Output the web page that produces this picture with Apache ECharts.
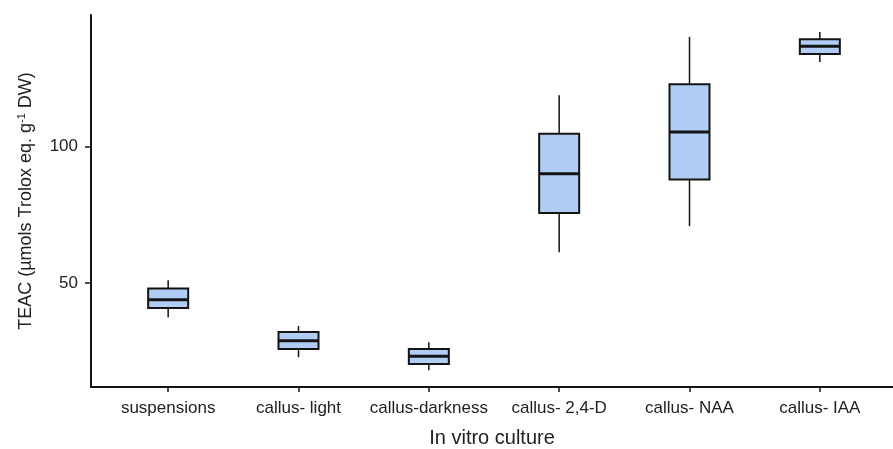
<!DOCTYPE html>
<html>
<head>
<meta charset="utf-8">
<script src="https://cdn.jsdelivr.net/npm/echarts@6/dist/echarts.min.js"></script>
<style>
  html, body { margin: 0; padding: 0; background: #fff; }
  #chart { width: 893px; height: 449px; }
</style>
</head>
<body>
<div id="chart"></div>
<script>
// Culture types along the x axis
const categories = ['suspensions', 'callus- light', 'callus-darkness', 'callus- 2,4-D', 'callus- NAA', 'callus- IAA'];

// Box statistics per culture (TEAC, µmols Trolox eq. g-1 DW)
const whiskerLow  = [37.5, 22.9, 18.1, 61.3, 70.8, 130.8];
const quartile1   = [40.9, 25.9, 20.4, 75.6, 87.9, 133.7];
const medians     = [43.9, 28.9, 23.2, 90.0, 105.2, 136.6];
const quartile3   = [48.0, 32.1, 25.9, 104.6, 122.7, 139.1];
const whiskerHigh = [51.0, 34.3, 28.4, 118.7, 140.0, 141.8];

// Y axis tick values
const yTicks = [50, 100];
const yMin = 12;
const yMax = 148;

const boxData = categories.map((c, i) => [i, whiskerLow[i], quartile1[i], medians[i], quartile3[i], whiskerHigh[i]]);

const chart = echarts.init(document.getElementById('chart'), null, { renderer: 'canvas' });

const fontFamily = '"Liberation Sans", Arial, sans-serif';
const dark = '#141414';

function renderBox(params, api) {
  const idx = api.value(0);
  const pMin = api.coord([idx, api.value(1)]);
  const pQ1 = api.coord([idx, api.value(2)]);
  const pMed = api.coord([idx, api.value(3)]);
  const pQ3 = api.coord([idx, api.value(4)]);
  const pMax = api.coord([idx, api.value(5)]);
  const cx = pMed[0];
  const half = 20;
  return {
    type: 'group',
    children: [
      { type: 'line', shape: { x1: cx, y1: pMin[1], x2: cx, y2: pQ1[1] }, style: { stroke: dark, lineWidth: 1.5 } },
      { type: 'line', shape: { x1: cx, y1: pQ3[1], x2: cx, y2: pMax[1] }, style: { stroke: dark, lineWidth: 1.5 } },
      { type: 'rect', shape: { x: cx - half, y: pQ3[1], width: half * 2, height: pQ1[1] - pQ3[1] },
        style: { fill: '#b1cdf4', stroke: dark, lineWidth: 2 } },
      { type: 'line', shape: { x1: cx - half, y1: pMed[1], x2: cx + half, y2: pMed[1] }, style: { stroke: dark, lineWidth: 3 } }
    ]
  };
}

chart.setOption({
  animation: false,
  backgroundColor: '#fff',
  grid: [
    { left: 103, right: 8, top: 15, bottom: 62, containLabel: false, outerBoundsMode: 'none' },
    { left: 91, right: 0, top: 15, bottom: 62, containLabel: false, outerBoundsMode: 'none' }
  ],
  xAxis: [
    {
      type: 'category', gridIndex: 0, data: categories,
      axisLine: { show: false },
      axisTick: { show: true, alignWithLabel: true, length: 5, lineStyle: { color: dark, width: 1.5 } },
      axisLabel: { color: '#222', fontSize: 17, fontFamily, margin: 13, interval: 0, hideOverlap: false },
      splitLine: { show: false }
    },
    {
      type: 'value', gridIndex: 1, min: 0, max: 1,
      axisLine: { show: true, lineStyle: { color: dark, width: 2 } },
      axisTick: { show: false }, axisLabel: { show: false }, splitLine: { show: false },
      name: 'In vitro culture', nameLocation: 'middle', nameGap: 41,
      nameTextStyle: { color: '#222', fontSize: 20, fontFamily }
    }
  ],
  yAxis: [
    {
      type: 'value', gridIndex: 0, min: yMin, max: yMax,
      axisLine: { show: false }, axisTick: { show: false }, axisLabel: { show: false }, splitLine: { show: false }
    },
    {
      type: 'value', gridIndex: 1, min: yMin, max: yMax,
      axisLine: { show: true, lineStyle: { color: dark, width: 2 } },
      axisTick: { show: true, length: 6, customValues: yTicks, lineStyle: { color: dark, width: 1.5 } },
      axisLabel: { show: true, customValues: yTicks, color: '#222', fontSize: 17, fontFamily, margin: 13 },
      splitLine: { show: false },
      name: 'TEAC (µmols Trolox eq. g{sup|-1} DW)',
      nameLocation: 'middle', nameGap: 55, nameRotate: 90,
      nameTextStyle: {
        color: '#222', fontSize: 18, fontFamily,
        rich: { sup: { fontSize: 11, verticalAlign: 'top', padding: [0, 0, 9, 0], fontFamily, color: '#222' } }
      }
    }
  ],
  series: [
    {
      type: 'custom',
      xAxisIndex: 0, yAxisIndex: 0,
      renderItem: renderBox,
      encode: { x: 0, y: [1, 2, 3, 4, 5] },
      data: boxData
    }
  ]
});
</script>
</body>
</html>
